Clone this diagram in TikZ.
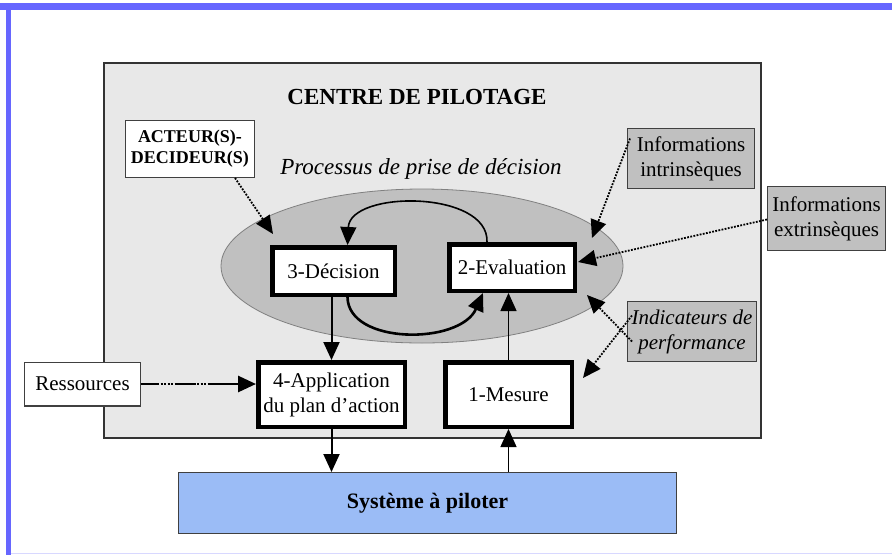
\documentclass[tikz,border=0pt]{standalone}
\usepackage{fontspec}
\setmainfont{Liberation Serif}
\usetikzlibrary{arrows.meta,shapes.geometric}
\definecolor{frameblue}{HTML}{6666FF}
\definecolor{framelight}{HTML}{D8D8FF}
\definecolor{centregray}{HTML}{E8E8E8}
\definecolor{ellgray}{HTML}{C0C0C0}
\definecolor{sysblue}{HTML}{9BBCF6}
\tikzset{
  procbox/.style={draw=black, line width=4.5pt, fill=white, align=center, inner sep=0pt, font=\fontsize{21}{25}\selectfont},
  whitebox/.style={draw=black!75, line width=1.4pt, fill=white, align=center, inner sep=0pt},
  infobox/.style={draw=black!75, line width=1.4pt, fill=ellgray, align=center, inner sep=0pt, font=\fontsize{21}{25}\selectfont},
  bigtip/.style={-{Triangle[length=18pt,width=16pt]}},
  arr/.style={bigtip, line width=2pt},
  thinarr/.style={bigtip, line width=1.3pt},
  dotarr/.style={bigtip, line width=1.8pt, dash pattern=on 1.8pt off 1.4pt},
  resarr/.style={-{Triangle[length=18pt,width=16pt]}, line width=2.8pt,
     dash pattern=on 18pt off 1.5pt on 2pt off 1.5pt on 2pt off 1.5pt on 2pt off 1.5pt on 2pt off 1.5pt on 21pt off 1.5pt on 2pt off 1.5pt on 2pt off 1.5pt on 2pt off 1.5pt on 40pt}
}
\begin{document}
\begin{tikzpicture}[x=1pt,y=-1pt]
\useasboundingbox (0,0) rectangle (892,555);
% window frame
\fill[frameblue] (0,3) rectangle (892,9.5);
\fill[frameblue] (6,3) rectangle (11,555);
\draw[framelight, line width=1.5pt] (11,553.5) -- (892,553.5);
% centre de pilotage
\node[draw=black!80, line width=1.6pt, fill=centregray, minimum width=657pt, minimum height=375pt, inner sep=0pt] (centre) at (432.5,250.5) {};
\node[font=\fontsize{23}{27}\selectfont\bfseries] (title) at (417,97) {CENTRE DE PILOTAGE};
% ellipse
\node[ellipse, draw=black!50, line width=0.8pt, fill=ellgray, minimum width=402pt, minimum height=154pt, inner sep=0pt] (ell) at (422,266) {};
\node[font=\fontsize{23}{27}\selectfont\itshape] (proc) at (421,169) {Processus de prise de décision};
% boxes
\node[whitebox, minimum width=128.6pt, minimum height=56.6pt, font=\fontsize{18}{21}\selectfont\bfseries] (act) at (190,149) {ACTEUR(S)-\\DECIDEUR(S)};
\node[infobox, minimum width=126.6pt, minimum height=59.6pt] (iint) at (691,158.5) {Informations\\intrinsèques};
\node[infobox, minimum width=117.6pt, minimum height=63.6pt] (iext) at (826.5,218.5) {Informations\\extrinsèques};
\node[infobox, minimum width=128.6pt, minimum height=59.6pt, font=\fontsize{21}{25}\selectfont\itshape] (ind) at (692,331.5) {Indicateurs de\\performance};
\node[procbox, minimum width=122.5pt, minimum height=47.5pt] (dec) at (333.5,271) {3-Décision};
\node[procbox, minimum width=125.5pt, minimum height=46.5pt] (eval) at (512,267.5) {2-Evaluation};
\node[procbox, minimum width=146.5pt, minimum height=64.5pt] (app) at (331.5,394.5) {4-Application\\du plan d'action};
\node[procbox, minimum width=126.5pt, minimum height=64.5pt] (mes) at (508.5,394.5) {1-Mesure};
\node[whitebox, minimum width=115.6pt, minimum height=43.6pt, font=\fontsize{21}{25}\selectfont] (res) at (82.5,384) {Ressources};
\node[draw=black!75, line width=1.4pt, fill=sysblue, minimum width=497.6pt, minimum height=60.6pt, inner sep=0pt, font=\fontsize{22}{26}\selectfont\bfseries] (sys) at (427.5,503) {Système à piloter};
% tip coordinates
\coordinate (tipA) at (273,234);
\coordinate (tipI) at (592,238);
\coordinate (tipE) at (578,262);
\coordinate (tipP) at (587,295);
\coordinate (tipQ) at (583,378);
% connectors
\draw[arr] (dec.south -| app.north) -- (app.north);
\draw[arr] (app.south) -- (app.south |- sys.north);
\draw[thinarr] (mes.south |- sys.north) -- (mes.south);
\draw[thinarr] (mes.north) -- (mes.north |- eval.south);
\draw[bigtip, line width=1.6pt] ([xshift=-25pt]eval.north) .. controls (489,190) and (350,190) .. ([xshift=14pt]dec.north);
\draw[bigtip, line width=2.6pt] ([xshift=14pt]dec.south) .. controls (348,345) and (460,345) .. ([xshift=-29pt]eval.south);
\draw[resarr] (res.east) -- (res.east -| app.west);
\draw[dotarr] ([xshift=45pt]act.south) -- (tipA);
\draw[dotarr] ([xshift=3pt,yshift=20pt]iint.west) -- (tipI);
\draw[dotarr] ([yshift=-1pt]iext.west) -- (tipE);
\draw[dotarr] ([xshift=5pt,yshift=-10pt]ind.west) -- (tipP);
\draw[dotarr] ([xshift=5pt,yshift=16pt]ind.west) -- (tipQ);
\end{tikzpicture}
\end{document}
